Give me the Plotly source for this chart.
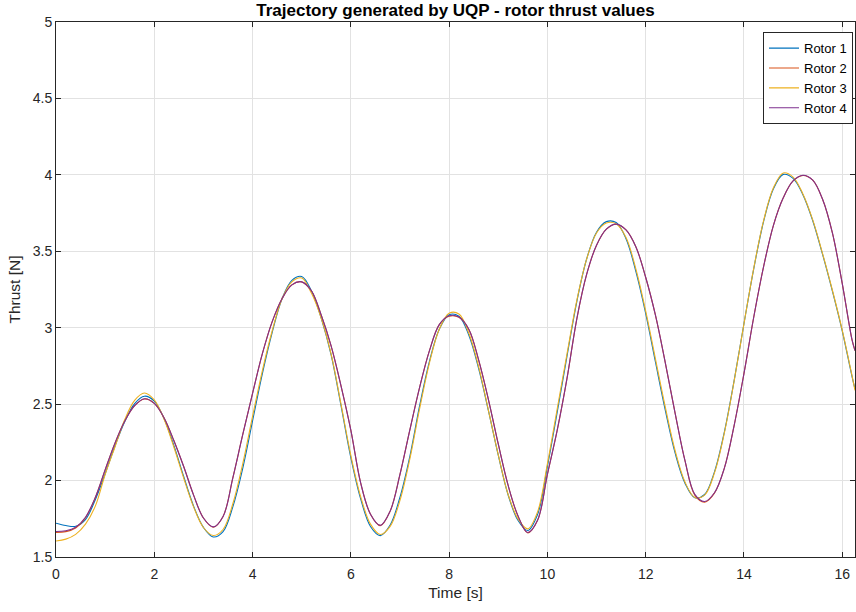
import plotly.graph_objects as go

# ---- data ----
time_s = [0, 0.2, 0.4, 0.6, 0.8, 1.0, 1.2, 1.4, 1.6, 1.8, 2.0, 2.2, 2.4, 2.6, 2.8, 3.0, 3.2, 3.4, 3.6, 3.8,
          4.0, 4.2, 4.4, 4.6, 4.8, 5.0, 5.2, 5.4, 5.6, 5.8, 6.0, 6.2, 6.4, 6.6, 6.8, 7.0, 7.2, 7.4, 7.6, 7.8,
          8.0, 8.2, 8.4, 8.6, 8.8, 9.0, 9.2, 9.4, 9.6, 9.8, 10.0, 10.2, 10.4, 10.6, 10.8, 11.0, 11.2, 11.4,
          11.6, 11.8, 12.0, 12.2, 12.4, 12.6, 12.8, 13.0, 13.2, 13.4, 13.6, 13.8, 14.0, 14.2, 14.4, 14.6,
          14.8, 15.0, 15.2, 15.4, 15.6, 15.8, 16.0, 16.2, 16.26]

rotor1 = [1.721, 1.706, 1.701, 1.745, 1.875, 2.045, 2.226, 2.387, 2.504, 2.552, 2.520, 2.405, 2.229, 2.025,
          1.833, 1.694, 1.631, 1.666, 1.83, 2.08, 2.39, 2.70, 2.97, 3.19, 3.31, 3.335, 3.24, 3.06, 2.82, 2.49,
          2.15, 1.88, 1.70, 1.640, 1.709, 1.891, 2.157, 2.49, 2.78, 2.99, 3.085, 3.075, 2.952, 2.734, 2.457,
          2.166, 1.907, 1.740, 1.673, 1.778, 2.091, 2.447, 2.816, 3.173, 3.451, 3.625, 3.694, 3.688, 3.582,
          3.369, 3.094, 2.774, 2.459, 2.179, 1.983, 1.888, 1.909, 2.057, 2.316, 2.654, 3.026, 3.387, 3.695,
          3.909, 4.003, 3.977, 3.870, 3.70, 3.48, 3.24, 2.98, 2.68, 2.60]

rotor2 = [1.660, 1.666, 1.690, 1.757, 1.888, 2.07, 2.245, 2.39, 2.49, 2.534, 2.505, 2.41, 2.26, 2.09,
          1.905, 1.755, 1.695, 1.765, 2.02, 2.30, 2.57, 2.83, 3.04, 3.19, 3.28, 3.30, 3.24, 3.08, 2.88, 2.62,
          2.33, 1.985, 1.78, 1.705, 1.80, 2.04, 2.33, 2.61, 2.85, 3.02, 3.075, 3.068, 2.99, 2.79, 2.53,
          2.24, 1.97, 1.77, 1.658, 1.74, 2.04, 2.33, 2.67, 3.06, 3.35, 3.54, 3.645, 3.677, 3.64,
          3.53, 3.33, 3.08, 2.77, 2.44, 2.13, 1.905, 1.859, 1.918, 2.08, 2.36, 2.70, 3.07, 3.40,
          3.67, 3.85, 3.96, 3.996, 3.965, 3.84, 3.62, 3.29, 2.92, 2.85]

rotor3 = [1.605, 1.617, 1.648, 1.715, 1.833, 2.04, 2.22, 2.40, 2.525, 2.573, 2.528, 2.401, 2.218, 2.015,
          1.828, 1.693, 1.641, 1.68, 1.85, 2.11, 2.42, 2.72, 2.98, 3.19, 3.30, 3.325, 3.225, 3.06, 2.825, 2.50,
          2.165, 1.895, 1.715, 1.647, 1.70, 1.87, 2.14, 2.47, 2.77, 2.99, 3.095, 3.09, 2.965, 2.745, 2.46,
          2.17, 1.91, 1.75, 1.684, 1.795, 2.11, 2.47, 2.83, 3.18, 3.45, 3.62, 3.685, 3.68, 3.59,
          3.385, 3.11, 2.795, 2.48, 2.195, 1.99, 1.89, 1.905, 2.05, 2.31, 2.65, 3.025, 3.39, 3.70,
          3.915, 4.012, 3.985, 3.875, 3.705, 3.485, 3.245, 2.985, 2.685, 2.59]

rotor4 = [1.667, 1.672, 1.695, 1.76, 1.89, 2.07, 2.245, 2.39, 2.49, 2.535, 2.505, 2.41, 2.26, 2.09,
          1.905, 1.755, 1.697, 1.765, 2.02, 2.30, 2.57, 2.83, 3.04, 3.19, 3.28, 3.30, 3.24, 3.08, 2.88, 2.62,
          2.33, 1.985, 1.78, 1.707, 1.80, 2.04, 2.33, 2.61, 2.85, 3.02, 3.078, 3.07, 2.99, 2.79, 2.53,
          2.24, 1.97, 1.77, 1.660, 1.74, 2.04, 2.33, 2.67, 3.06, 3.35, 3.54, 3.645, 3.678, 3.64,
          3.53, 3.33, 3.08, 2.77, 2.44, 2.13, 1.91, 1.863, 1.92, 2.08, 2.36, 2.70, 3.07, 3.40,
          3.67, 3.85, 3.96, 3.997, 3.965, 3.84, 3.62, 3.29, 2.92, 2.85]

names = ["Rotor 1", "Rotor 2", "Rotor 3", "Rotor 4"]
colors = ["#0072BD", "#D95319", "#EDB120", "#7E2F8E"]
x_ticks = [0, 2, 4, 6, 8, 10, 12, 14, 16]
y_ticks = [1.5, 2, 2.5, 3, 3.5, 4, 4.5, 5]
y_tick_text = ["1.5", "2", "2.5", "3", "3.5", "4", "4.5", "5"]

fig = go.Figure()
for vals, nm, c in zip([rotor1, rotor2, rotor3, rotor4], names, colors):
    fig.add_trace(go.Scatter(x=time_s, y=vals, mode="lines", name=nm,
                             line=dict(color=c, width=1.1, shape="spline", smoothing=1.0)))

font_family = "Liberation Sans, Arial, sans-serif"
axis_common = dict(showgrid=True, gridcolor="#e2e2e2", gridwidth=1, automargin=False,
                   showline=True, linecolor="#262626", linewidth=1, mirror="ticks",
                   ticks="inside", ticklen=5, tickcolor="#262626", zeroline=False,
                   tickfont=dict(family=font_family, size=14, color="#262626"))

fig.update_layout(
    width=856, height=612,
    margin=dict(l=56, r=1, t=22, b=55, autoexpand=False),
    paper_bgcolor="white", plot_bgcolor="white",
    title=dict(text="<b>Trajectory generated by UQP - rotor thrust values</b>",
               xref="paper", x=0.5, xanchor="center", yref="container", y=0.984, yanchor="middle",
               font=dict(family=font_family, size=17, color="black")),
    xaxis=dict(range=[0, 16.26], tickvals=x_ticks, ticklabelstandoff=4,
               title=dict(text="Time [s]", font=dict(family=font_family, size=15.5, color="#262626"), standoff=6),
               **axis_common),
    yaxis=dict(range=[1.5, 5], tickvals=y_ticks, ticktext=y_tick_text,
               title=dict(text="Thrust [N]", font=dict(family=font_family, size=15.5, color="#262626"), standoff=8),
               **axis_common),
    legend=dict(x=0.9975, xanchor="right", y=0.981, yanchor="top",
                bgcolor="white", bordercolor="#262626", borderwidth=1,
                font=dict(family=font_family, size=13, color="black"),
                tracegroupgap=0, itemwidth=30),
    showlegend=True,
)

fig.write_html("out.html", config={"displayModeBar": False},
               post_script="document.body.style.margin='0';")
